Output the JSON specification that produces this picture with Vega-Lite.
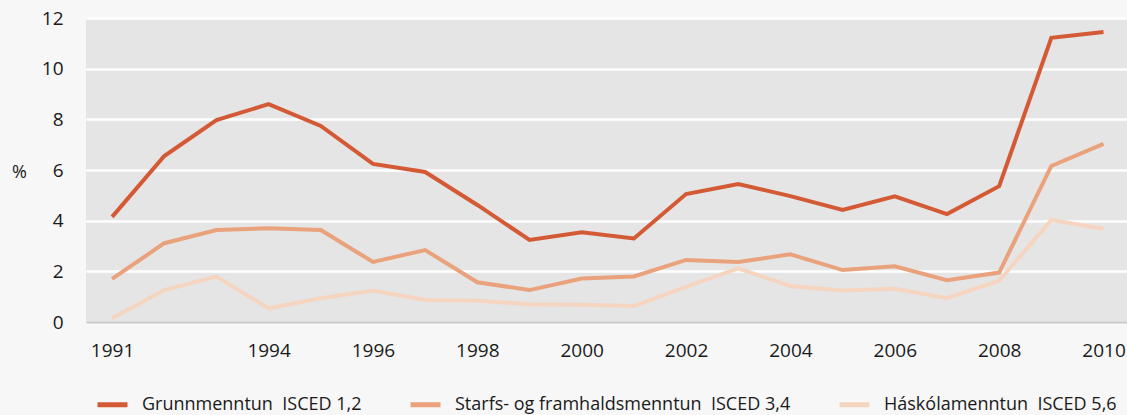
{
  "$schema": "https://vega.github.io/schema/vega-lite/v6.json",
  "autosize": "none",
  "width": 1041,
  "height": 304,
  "padding": {"left": 86, "top": 18, "right": 0, "bottom": 93},
  "background": "#f7f7f7",
  "config": {
    "view": {"fill": "#e5e5e5", "stroke": null},
    "font": "Open Sans",
    "axis": {"labelFont": "Open Sans", "labelColor": "#1a1a1a", "titleFont": "Open Sans"},
    "legend": {"labelFont": "Open Sans"}
  },
  "data": {
    "values": [
      {"year": 1991, "s": "Grunnmenntun\u00a0\u00a0ISCED 1,2", "v": 4.15},
      {"year": 1992, "s": "Grunnmenntun\u00a0\u00a0ISCED 1,2", "v": 6.55},
      {"year": 1993, "s": "Grunnmenntun\u00a0\u00a0ISCED 1,2", "v": 7.97},
      {"year": 1994, "s": "Grunnmenntun\u00a0\u00a0ISCED 1,2", "v": 8.6},
      {"year": 1995, "s": "Grunnmenntun\u00a0\u00a0ISCED 1,2", "v": 7.74},
      {"year": 1996, "s": "Grunnmenntun\u00a0\u00a0ISCED 1,2", "v": 6.24},
      {"year": 1997, "s": "Grunnmenntun\u00a0\u00a0ISCED 1,2", "v": 5.92},
      {"year": 1998, "s": "Grunnmenntun\u00a0\u00a0ISCED 1,2", "v": 4.62},
      {"year": 1999, "s": "Grunnmenntun\u00a0\u00a0ISCED 1,2", "v": 3.24},
      {"year": 2000, "s": "Grunnmenntun\u00a0\u00a0ISCED 1,2", "v": 3.54},
      {"year": 2001, "s": "Grunnmenntun\u00a0\u00a0ISCED 1,2", "v": 3.3},
      {"year": 2002, "s": "Grunnmenntun\u00a0\u00a0ISCED 1,2", "v": 5.05},
      {"year": 2003, "s": "Grunnmenntun\u00a0\u00a0ISCED 1,2", "v": 5.45},
      {"year": 2004, "s": "Grunnmenntun\u00a0\u00a0ISCED 1,2", "v": 4.97},
      {"year": 2005, "s": "Grunnmenntun\u00a0\u00a0ISCED 1,2", "v": 4.42},
      {"year": 2006, "s": "Grunnmenntun\u00a0\u00a0ISCED 1,2", "v": 4.96},
      {"year": 2007, "s": "Grunnmenntun\u00a0\u00a0ISCED 1,2", "v": 4.26},
      {"year": 2008, "s": "Grunnmenntun\u00a0\u00a0ISCED 1,2", "v": 5.36},
      {"year": 2009, "s": "Grunnmenntun\u00a0\u00a0ISCED 1,2", "v": 11.22},
      {"year": 2010, "s": "Grunnmenntun\u00a0\u00a0ISCED 1,2", "v": 11.45},
      {"year": 1991, "s": "Starfs- og framhaldsmenntun\u00a0\u00a0ISCED 3,4", "v": 1.7},
      {"year": 1992, "s": "Starfs- og framhaldsmenntun\u00a0\u00a0ISCED 3,4", "v": 3.11},
      {"year": 1993, "s": "Starfs- og framhaldsmenntun\u00a0\u00a0ISCED 3,4", "v": 3.63},
      {"year": 1994, "s": "Starfs- og framhaldsmenntun\u00a0\u00a0ISCED 3,4", "v": 3.7},
      {"year": 1995, "s": "Starfs- og framhaldsmenntun\u00a0\u00a0ISCED 3,4", "v": 3.63},
      {"year": 1996, "s": "Starfs- og framhaldsmenntun\u00a0\u00a0ISCED 3,4", "v": 2.37},
      {"year": 1997, "s": "Starfs- og framhaldsmenntun\u00a0\u00a0ISCED 3,4", "v": 2.84},
      {"year": 1998, "s": "Starfs- og framhaldsmenntun\u00a0\u00a0ISCED 3,4", "v": 1.57},
      {"year": 1999, "s": "Starfs- og framhaldsmenntun\u00a0\u00a0ISCED 3,4", "v": 1.26},
      {"year": 2000, "s": "Starfs- og framhaldsmenntun\u00a0\u00a0ISCED 3,4", "v": 1.72},
      {"year": 2001, "s": "Starfs- og framhaldsmenntun\u00a0\u00a0ISCED 3,4", "v": 1.8},
      {"year": 2002, "s": "Starfs- og framhaldsmenntun\u00a0\u00a0ISCED 3,4", "v": 2.45},
      {"year": 2003, "s": "Starfs- og framhaldsmenntun\u00a0\u00a0ISCED 3,4", "v": 2.37},
      {"year": 2004, "s": "Starfs- og framhaldsmenntun\u00a0\u00a0ISCED 3,4", "v": 2.67},
      {"year": 2005, "s": "Starfs- og framhaldsmenntun\u00a0\u00a0ISCED 3,4", "v": 2.05},
      {"year": 2006, "s": "Starfs- og framhaldsmenntun\u00a0\u00a0ISCED 3,4", "v": 2.2},
      {"year": 2007, "s": "Starfs- og framhaldsmenntun\u00a0\u00a0ISCED 3,4", "v": 1.65},
      {"year": 2008, "s": "Starfs- og framhaldsmenntun\u00a0\u00a0ISCED 3,4", "v": 1.95},
      {"year": 2009, "s": "Starfs- og framhaldsmenntun\u00a0\u00a0ISCED 3,4", "v": 6.16},
      {"year": 2010, "s": "Starfs- og framhaldsmenntun\u00a0\u00a0ISCED 3,4", "v": 7.03},
      {"year": 1991, "s": "Háskólamenntun\u00a0\u00a0ISCED 5,6", "v": 0.15},
      {"year": 1992, "s": "Háskólamenntun\u00a0\u00a0ISCED 5,6", "v": 1.26},
      {"year": 1993, "s": "Háskólamenntun\u00a0\u00a0ISCED 5,6", "v": 1.79},
      {"year": 1994, "s": "Háskólamenntun\u00a0\u00a0ISCED 5,6", "v": 0.54},
      {"year": 1995, "s": "Háskólamenntun\u00a0\u00a0ISCED 5,6", "v": 0.94},
      {"year": 1996, "s": "Háskólamenntun\u00a0\u00a0ISCED 5,6", "v": 1.24},
      {"year": 1997, "s": "Háskólamenntun\u00a0\u00a0ISCED 5,6", "v": 0.87},
      {"year": 1998, "s": "Háskólamenntun\u00a0\u00a0ISCED 5,6", "v": 0.84},
      {"year": 1999, "s": "Háskólamenntun\u00a0\u00a0ISCED 5,6", "v": 0.7},
      {"year": 2000, "s": "Háskólamenntun\u00a0\u00a0ISCED 5,6", "v": 0.68},
      {"year": 2001, "s": "Háskólamenntun\u00a0\u00a0ISCED 5,6", "v": 0.63},
      {"year": 2002, "s": "Háskólamenntun\u00a0\u00a0ISCED 5,6", "v": 1.39},
      {"year": 2003, "s": "Háskólamenntun\u00a0\u00a0ISCED 5,6", "v": 2.12},
      {"year": 2004, "s": "Háskólamenntun\u00a0\u00a0ISCED 5,6", "v": 1.42},
      {"year": 2005, "s": "Háskólamenntun\u00a0\u00a0ISCED 5,6", "v": 1.24},
      {"year": 2006, "s": "Háskólamenntun\u00a0\u00a0ISCED 5,6", "v": 1.31},
      {"year": 2007, "s": "Háskólamenntun\u00a0\u00a0ISCED 5,6", "v": 0.94},
      {"year": 2008, "s": "Háskólamenntun\u00a0\u00a0ISCED 5,6", "v": 1.63},
      {"year": 2009, "s": "Háskólamenntun\u00a0\u00a0ISCED 5,6", "v": 4.03},
      {"year": 2010, "s": "Háskólamenntun\u00a0\u00a0ISCED 5,6", "v": 3.68}
    ]
  },
  "mark": {"type": "line", "strokeWidth": 4, "strokeJoin": "miter", "strokeCap": "butt"},
  "encoding": {
    "x": {
      "field": "year",
      "type": "quantitative",
      "scale": {"domain": [1990.5, 2010.45], "nice": false, "zero": false},
      "axis": {
        "values": [1991, 1994, 1996, 1998, 2000, 2002, 2004, 2006, 2008, 2010],
        "format": "d",
        "title": null,
        "grid": false,
        "ticks": false,
        "domain": true,
        "domainColor": "#c8c8c8",
        "domainWidth": 2,
        "labelFontSize": 19,
        "labelPadding": 19,
        "labelFlush": false
      }
    },
    "y": {
      "field": "v",
      "type": "quantitative",
      "scale": {"domain": [0, 12], "nice": false},
      "axis": {
        "values": [0, 2, 4, 6, 8, 10, 12],
        "title": "%",
        "titleAngle": 0,
        "titleFontSize": 18,
        "titleFontWeight": "normal",
        "titleColor": "#1a1a1a",
        "titleX": -67,
        "titleY": 154,
        "titleAlign": "center",
        "titleBaseline": "middle",
        "grid": true,
        "gridColor": "#ffffff",
        "gridWidth": 2.5,
        "ticks": false,
        "domain": false,
        "labelFontSize": 19,
        "labelPadding": 23,
        "labelFlush": false
      }
    },
    "color": {
      "field": "s",
      "type": "nominal",
      "scale": {
        "domain": ["Grunnmenntun\u00a0\u00a0ISCED 1,2", "Starfs- og framhaldsmenntun\u00a0\u00a0ISCED 3,4", "Háskólamenntun\u00a0\u00a0ISCED 5,6"],
        "range": ["#d35a35", "#e9a27c", "#f6d5c0"]
      },
      "legend": {
        "title": null,
        "orient": "none",
        "direction": "horizontal",
        "legendX": 9,
        "legendY": 369,
        "symbolType": "stroke",
        "symbolSize": 900,
        "symbolStrokeWidth": 5,
        "labelFontSize": 18,
        "labelColor": "#1a1a1a",
        "labelOffset": 12,
        "labelLimit": 500,
        "columnPadding": 38,
        "padding": 0
      }
    }
  }
}
